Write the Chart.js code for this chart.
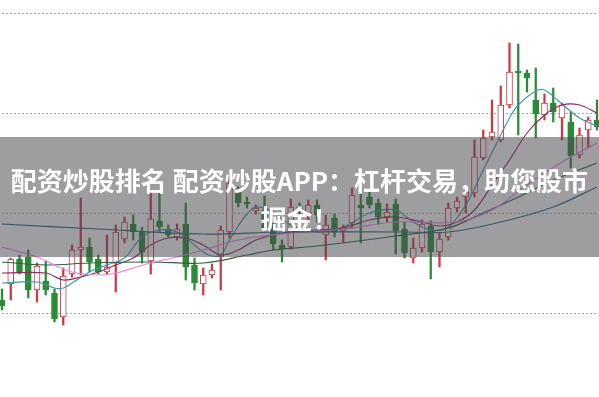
<!DOCTYPE html>
<html>
<head>
<meta charset="utf-8">
<script src="https://cdn.jsdelivr.net/npm/chart.js@4/dist/chart.umd.min.js"></script>
<style>
  html, body { margin: 0; padding: 0; background: #fff; }
  #wrap { position: relative; width: 599px; height: 397px; overflow: hidden; }
  #banner {
    position: absolute; left: 0; top: 137px; width: 599px; height: 120px;
    background: rgba(72, 72, 78, 0.53);
    display: flex; align-items: center; justify-content: center;
    color: #fff; font-family: "Noto Sans CJK SC", "Noto Sans", sans-serif;
    font-weight: bold; font-size: 26px; line-height: 38px; text-align: center;
    padding-top: 3px; box-sizing: border-box; pointer-events: none;
  }
</style>
</head>
<body>
<div id="wrap">
  <canvas id="chart" width="599" height="397"></canvas>
  <div id="banner">配资炒股排名 配资炒股APP：杠杆交易，助您股市<br>掘金！</div>
</div>
<script>
// daily candles
const opens = [10.13, 10.29, 10.54, 10.56, 10.23, 10.32, 10.20, 9.96, 10.39, 10.63,
  10.66, 10.54, 10.41, 10.50, 10.74, 10.89, 10.81, 10.52, 10.92, 10.84,
  10.76, 10.89, 10.48, 10.29, 10.38, 10.56, 10.81, 11.21, 11.11, 11.02,
  11.03, 10.84, 10.68, 10.66, 11.06, 10.98, 11.08, 10.78, 10.95, 10.82,
  10.90, 11.08, 11.16, 11.10, 10.96, 11.09, 10.84, 10.55, 10.65, 10.87,
  10.61, 10.76, 11.05, 11.16, 11.20, 11.55, 11.76, 11.73, 12.08, 12.42,
  12.40, 12.13, 11.98, 12.10, 11.95, 11.91, 11.58, 11.83, 11.93];
const closes = [10.07, 10.54, 10.40, 10.23, 10.47, 10.23, 9.94, 10.37, 10.63, 10.66,
  10.51, 10.41, 10.46, 10.81, 10.91, 10.81, 10.61, 10.94, 10.86, 10.78,
  10.84, 10.46, 10.30, 10.38, 10.43, 10.83, 11.30, 11.10, 11.09, 11.05,
  10.85, 10.69, 10.64, 11.06, 11.01, 11.08, 10.98, 10.88, 10.81, 10.85,
  11.18, 11.05, 11.08, 10.96, 11.01, 10.82, 10.60, 10.65, 10.89, 10.61,
  10.74, 11.05, 11.12, 11.21, 11.56, 11.75, 11.81, 12.08, 12.41, 12.40,
  12.35, 11.99, 12.10, 12.01, 12.08, 11.57, 11.78, 11.93, 11.86];
const highs = [10.24, 10.55, 10.58, 10.63, 10.50, 10.52, 10.24, 10.45, 10.68, 11.15,
  10.75, 10.58, 10.78, 10.88, 10.96, 10.98, 10.86, 11.23, 11.20, 10.88,
  10.89, 11.10, 10.55, 10.45, 10.49, 10.87, 11.37, 11.26, 11.16, 11.08,
  11.17, 10.91, 10.73, 11.14, 11.10, 11.13, 11.13, 10.98, 10.99, 10.88,
  11.25, 11.30, 11.21, 11.14, 11.09, 11.14, 10.91, 10.75, 10.93, 10.92,
  10.80, 11.10, 11.16, 11.25, 11.73, 11.83, 12.13, 12.27, 12.70, 12.69,
  12.43, 12.45, 12.19, 12.25, 12.10, 12.01, 11.85, 11.96, 12.13];
const lows = [10.03, 10.13, 10.39, 10.15, 10.11, 10.18, 9.91, 9.88, 10.36, 10.38,
  10.41, 10.39, 10.39, 10.21, 10.70, 10.73, 10.50, 10.39, 10.81, 10.76,
  10.73, 10.33, 10.23, 10.18, 10.35, 10.23, 10.75, 11.06, 11.05, 10.99,
  10.82, 10.63, 10.51, 10.64, 10.98, 10.93, 10.91, 10.53, 10.76, 10.71,
  10.85, 10.70, 11.05, 10.89, 10.91, 10.59, 10.55, 10.50, 10.61, 10.34,
  10.46, 10.73, 11.01, 11.00, 11.16, 11.53, 11.73, 11.71, 12.05, 11.78,
  12.21, 11.75, 11.93, 11.91, 11.73, 11.45, 11.55, 11.65, 11.83];

// moving average lines, [candle index, value] read where visible
const ma5 = [[0, 10.30], [4, 10.31], [6, 10.25], [7, 10.25], [8, 10.30], [10, 10.41], [12, 10.48],
  [14, 10.55], [16, 10.76], [18, 10.83], [20, 10.81], [22, 10.68], [23, 10.61], [24, 10.57],
  [25, 10.58], [26, 10.73], [27, 10.87], [28, 10.99], [29, 11.06], [31, 11.01], [33, 10.88],
  [36, 10.81], [39, 10.86], [42, 11.00], [45, 11.03], [47, 10.91], [49, 10.83], [51, 10.86],
  [53, 11.08], [55, 11.43], [57, 11.78], [58, 11.95], [59, 12.08], [61, 12.22], [62, 12.23],
  [64, 12.09], [66, 11.95], [68, 11.87]];
const ma10 = [[0, 10.40], [5, 10.40], [7, 10.33], [9, 10.36], [11, 10.41], [13, 10.48], [15, 10.55],
  [17, 10.68], [19, 10.75], [21, 10.75], [23, 10.68], [25, 10.58], [27, 10.63], [29, 10.73],
  [32, 10.80], [36, 10.83], [39, 10.85], [42, 10.93], [45, 10.96], [48, 10.91], [50, 10.87],
  [52, 10.91], [54, 11.03], [56, 11.28], [58, 11.53], [60, 11.80], [62, 11.98], [64, 12.08],
  [66, 12.08], [68, 12.00]];
const ma20 = [[0, 10.51], [5, 10.48], [10, 10.50], [17, 10.51], [23, 10.50], [28, 10.58], [31, 10.63],
  [36, 10.67], [45, 10.77], [51, 10.85], [55, 11.00], [59, 11.16], [63, 11.33], [68, 11.50]];
const ma30 = [[0, 10.66], [4, 10.56], [6, 10.48], [8, 10.41], [11, 10.38], [13, 10.40], [15, 10.45],
  [17, 10.50], [20, 10.56], [23, 10.63], [27, 10.73], [32, 10.79], [39, 10.84], [45, 10.91],
  [52, 10.91], [56, 11.03], [60, 11.28], [64, 11.51], [68, 11.70]];
const ma60 = [[0, 10.89], [11, 10.84], [23, 10.79], [32, 10.81], [46, 10.81], [51, 10.81],
  [57, 10.91], [63, 11.06], [68, 11.26]];

const gridValues = [10, 11, 12, 13];

const upColor = "#c93a45";
const downColor = "#2a8a36";

const labels = opens.map((_, i) => String(i));
const isUp = opens.map((o, i) => closes[i] >= o);

function maLine(points, color) {
    return {
        type: "line",
        data: points.map(([i, v]) => ({ x: String(i), y: v })),
        borderColor: color,
        borderWidth: 1.2,
        pointRadius: 0,
        tension: 0.35,
        spanGaps: true,
        fill: false,
        order: 0,
        clip: false
    };
}

new Chart(document.getElementById("chart").getContext("2d"), {
    type: "bar",
    data: {
        labels: labels,
        datasets: [
            maLine(ma60, "#2f6678"),
            maLine(ma30, "#e38ae0"),
            maLine(ma20, "#2f5f3f"),
            maLine(ma10, "#8a2f5a"),
            maLine(ma5, "#3d9aa8"),
            {
                // candle bodies
                data: opens.map((o, i) => [o, closes[i]]),
                backgroundColor: isUp.map(u => u ? "#ffffff" : downColor),
                borderColor: isUp.map(u => u ? upColor : downColor),
                borderWidth: 1,
                borderSkipped: false,
                barThickness: 6,
                grouped: false,
                order: 1,
                clip: false
            },
            {
                // wicks
                data: lows.map((l, i) => [l, highs[i]]),
                backgroundColor: isUp.map(u => u ? upColor : downColor),
                borderWidth: 0,
                barThickness: 1.6,
                grouped: false,
                order: 2,
                clip: false
            }
        ]
    },
    options: {
        responsive: false,
        animation: false,
        layout: { padding: { left: 2, right: 2, top: 0, bottom: 0 } },
        plugins: {
            legend: { display: false },
            tooltip: { enabled: false }
        },
        scales: {
            x: {
                display: false,
                offset: false
            },
            y: {
                min: 9.16,
                max: 13.13,
                afterBuildTicks: (axis) => { axis.ticks = gridValues.map(v => ({ value: v })); },
                ticks: { display: false },
                grid: { color: "#a8a8a8", drawTicks: false, lineWidth: 1 },
                border: { display: false, dash: [2, 2] }
            }
        }
    }
});
</script>
</body>
</html>
